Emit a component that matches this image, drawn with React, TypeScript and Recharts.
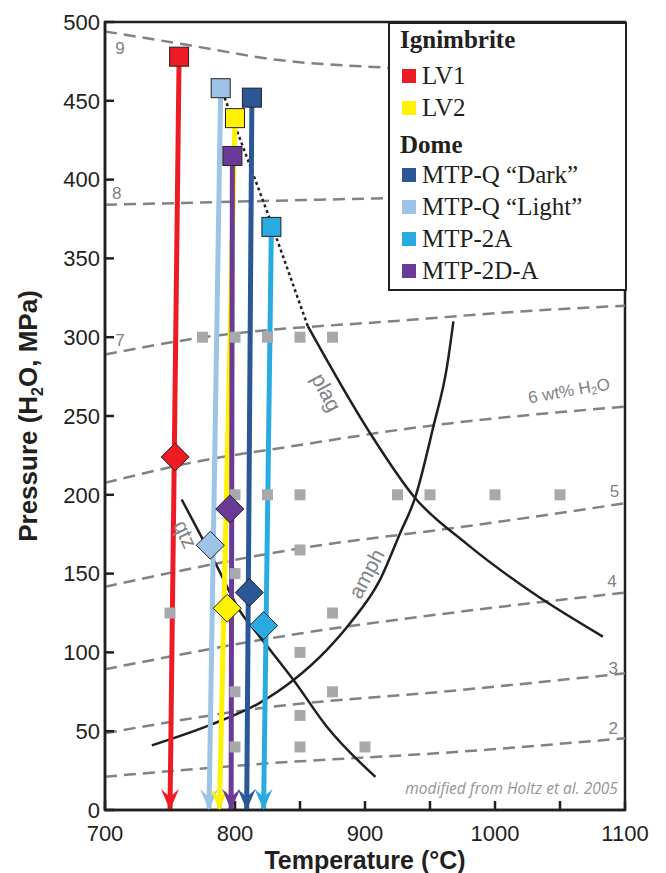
import React from "react";
import {
  ComposedChart,
  Line,
  Scatter,
  XAxis,
  YAxis,
  Legend,
  ReferenceArea,
  Label,
} from "recharts";

// samples: square = start, arrow at 0 MPa, diamond on the path
const sampleNames = ["LV1", "LV2", "MTP-Q “Dark”", "MTP-Q “Light”", "MTP-2A", "MTP-2D-A"];
const sampleGroups = ["Ignimbrite", "Ignimbrite", "Dome", "Dome", "Dome", "Dome"];
const sampleColors = ["#ED1C24", "#FFF200", "#2B5797", "#9DC3E6", "#29ABE2", "#6B3A97"];
const startT = [757, 800, 813, 789, 828, 798];
const startP = [478, 439, 452, 458, 370, 415];
const endT = [750, 788, 809, 780, 822, 797];
const diamondT = [754, 794, 811, 781, 822, 796];
const diamondP = [224, 128, 138, 168, 117, 191];
const drawOrder = [0, 3, 1, 5, 2, 4];

// experimental runs (grey squares)
const expT = [775, 800, 825, 850, 875, 800, 825, 850, 925, 950, 1000, 1050, 850, 800, 750, 875, 850, 800, 875, 850, 800, 850, 900];
const expP = [300, 300, 300, 300, 300, 200, 200, 200, 200, 200, 200, 200, 165, 150, 125, 125, 100, 75, 75, 60, 40, 40, 40];

// H2O isopleths (wt%)
const iso9 = [[700, 494], [763, 485.5], [832, 476], [906, 471.5], [1000, 469], [1100, 467]];
const iso8 = [[700, 384], [800, 386], [906, 388], [1000, 389.5], [1100, 390.5]];
const iso7 = [[700, 289], [768, 299], [935, 311], [1014, 316], [1100, 320]];
const iso6 = [[700, 207.6], [768, 220.6], [850, 231.6], [935, 242.2], [1100, 256]];
const iso5 = [[700, 141.7], [850, 166], [978, 180], [1100, 194.6]];
const iso4 = [[700, 89.3], [850, 112], [973, 125.8], [1100, 137.9]];
const iso3 = [[700, 48.7], [819, 64.5], [973, 76.1], [1100, 86.7]];
const iso2 = [[700, 21.1], [819, 29.2], [973, 37], [1100, 45.5]];

// phase-in curves
const plagDotted = [[792, 452], [825, 379], [856, 307]];
const plagSolid = [[856, 307], [904, 239], [938.5, 198], [978, 169], [1029.5, 137.5], [1083, 110]];
const amph = [[736, 41], [781, 54], [819, 68], [845, 82.5], [870.5, 101.5], [888.5, 118.5], [911.5, 146], [927, 175.6], [938.5, 198], [952.5, 243], [963, 281], [968, 310]];
const qtz = [[759, 197], [785, 156.5], [804, 126], [819, 110], [845, 82.5], [870.5, 53], [908, 21]];

// annotations
const noteText = ["9", "8", "7", "6 wt% H₂O", "5", "4", "3", "2", "plag", "amph", "qtz", "modified from Holtz et al. 2005"];
const noteT = [711.5, 709, 711.5, 1057, 1092, 1090, 1091, 1091, 870.5, 901, 762, 1094.5];
const noteP = [483.5, 391.3, 298, 266, 202, 145, 90, 52, 265, 150, 175, 14];
const noteAngle = [0, 0, 0, -10, 0, 0, 0, 0, 62, -62, 65, 0];

const xTicks = [700, 750, 800, 850, 900, 950, 1000, 1050, 1100];
const yTicks = [0, 50, 100, 150, 200, 250, 300, 350, 400, 450, 500];

const toPts = (arr: number[][]) => arr.map(([T, P]) => ({ T, P }));
const isopleths = [iso9, iso8, iso7, iso6, iso5, iso4, iso3, iso2].map(toPts);
const expData = expT.map((T, i) => ({ T, P: expP[i] }));
const squareData = startT.map((T, i) => ({ T, P: startP[i], color: sampleColors[i] }));
const diamondData = diamondT.map((T, i) => ({ T, P: diamondP[i], color: sampleColors[i] }));
const noteData = noteText.map((text, i) => ({ T: noteT[i], P: noteP[i], text, angle: noteAngle[i] }));

const GREY = "#808285";
const INK = "#231F20";
const SANS = '"Liberation Sans", Arial, Helvetica, sans-serif';

const withSub = (s: string, subSize: number) => {
  const parts = s.split("₂");
  if (parts.length < 2) return s;
  return (
    <>
      {parts[0]}
      <tspan dy={subSize * 0.35} fontSize={subSize}>2</tspan>
      <tspan dy={-subSize * 0.35}>{parts[1]}</tspan>
    </>
  );
};

const GreySquare = (p: any) => (
  <rect x={p.cx - 5.5} y={p.cy - 5.5} width={11} height={11} fill="#A7A9AC" />
);

const StartSquare = (p: any) => (
  <rect x={p.cx - 9.5} y={p.cy - 9.5} width={19} height={19} fill={p.payload.color} stroke={INK} strokeWidth={1} />
);

const Diamond = (p: any) => {
  const { cx, cy } = p;
  const r = 14;
  return (
    <polygon
      points={`${cx},${cy - r} ${cx + r},${cy} ${cx},${cy + r} ${cx - r},${cy}`}
      fill={p.payload.color}
      stroke={INK}
      strokeWidth={1}
    />
  );
};

const Note = (p: any) => {
  const { cx, cy, payload } = p;
  const foot = payload.text.startsWith("modified");
  const curve = ["plag", "amph", "qtz"].includes(payload.text);
  const size = foot ? 15.5 : curve ? 21 : 17;
  return (
    <text
      x={cx}
      y={cy}
      transform={payload.angle ? `rotate(${payload.angle} ${cx} ${cy})` : undefined}
      textAnchor={foot ? "end" : "middle"}
      dominantBaseline="central"
      fontFamily={foot ? '"Open Sans", sans-serif' : SANS}
      fontStyle={foot ? "italic" : "normal"}
      fontSize={size}
      fill={foot ? "#939598" : GREY}
    >
      {withSub(payload.text, size * 0.65)}
    </text>
  );
};

const arrowDot = (color: string, id: number) => (p: any) => {
  const { cx, cy, index } = p;
  if (index !== 1) return <g key={`n-${id}-${index}`} />;
  return (
    <polygon
      key={`a-${id}`}
      points={`${cx},${cy} ${cx - 9},${cy - 21} ${cx},${cy - 13} ${cx + 9},${cy - 21}`}
      fill={color}
    />
  );
};

const XTitle = (props: any) => {
  const vb = props.viewBox || { x: 105, y: 810, width: 520 };
  return (
    <text x={vb.x + vb.width / 2} y={vb.y + 59} textAnchor="middle" fontFamily={SANS} fontWeight="bold" fontSize={25} fill={INK}>
      Temperature (°C)
    </text>
  );
};

const YTitle = (props: any) => {
  const vb = props.viewBox || { y: 22, height: 788 };
  const cx = 37;
  const cy = vb.y + vb.height / 2;
  return (
    <text x={cx} y={cy} transform={`rotate(-90 ${cx} ${cy})`} textAnchor="middle" fontFamily={SANS} fontWeight="bold" fontSize={26} fill={INK}>
      {withSub("Pressure (H₂O, MPa)", 16)}
    </text>
  );
};

const renderLegend = () => {
  const groups = ["Ignimbrite", "Dome"];
  return (
    <div
      style={{
        boxSizing: "border-box",
        width: 239,
        height: 269,
        background: "#fff",
        border: `2px solid ${INK}`,
        fontFamily: '"Liberation Serif", "Times New Roman", serif',
        fontSize: 25,
        color: INK,
      }}
    >
      {groups.map((g, gi) => (
        <div key={g}>
          <div style={{ height: gi === 0 ? 32 : 29, lineHeight: gi === 0 ? "32px" : "29px", marginTop: gi === 0 ? 0 : 6, paddingLeft: 10, fontWeight: "bold" }}>
            {g}
          </div>
          {sampleNames.map((n, i) =>
            sampleGroups[i] !== g ? null : (
              <div key={n} style={{ display: "flex", alignItems: "center", height: 32, marginTop: gi === 0 && i === 0 ? 4 : 0 }}>
                <span style={{ width: 14, height: 14, background: sampleColors[i], marginLeft: 12, marginRight: 6, display: "inline-block" }} />
                <span style={{ lineHeight: "32px" }}>{n}</span>
              </div>
            )
          )}
        </div>
      ))}
    </div>
  );
};

export default function App() {
  return (
    <div style={{ position: "absolute", left: 0, top: 0 }}>
      <ComposedChart width={666} height={873} margin={{ top: 22, right: 41, bottom: 13, left: 45 }}>
        <XAxis
          type="number"
          dataKey="T"
          domain={[700, 1100]}
          ticks={xTicks}
          allowDataOverflow
          height={50}
          tickSize={-9}
          tickMargin={24}
          tickFormatter={(v: number) => (v % 100 === 0 ? String(v) : "")}
          tick={{ fontFamily: SANS, fontSize: 22, fill: INK }}
          axisLine={{ stroke: INK, strokeWidth: 2.5 }}
          tickLine={{ stroke: INK, strokeWidth: 2.5 }}
        >
          <Label content={XTitle} />
        </XAxis>
        <YAxis
          type="number"
          dataKey="P"
          domain={[0, 500]}
          ticks={yTicks}
          allowDataOverflow
          width={60}
          tickSize={-9}
          tickMargin={14}
          tick={{ fontFamily: SANS, fontSize: 22, fill: INK }}
          axisLine={{ stroke: INK, strokeWidth: 2.5 }}
          tickLine={{ stroke: INK, strokeWidth: 2.5 }}
        >
          <Label content={YTitle} />
        </YAxis>

        {isopleths.map((d, i) => (
          <Line key={`iso-${i}`} data={d} dataKey="P" type="monotone" stroke={GREY} strokeWidth={2.5} strokeDasharray="12 7" dot={false} activeDot={false} isAnimationActive={false} />
        ))}

        <Scatter data={expData} dataKey="P" shape={GreySquare} isAnimationActive={false} />

        <Line data={toPts(plagDotted)} dataKey="P" type="linear" stroke={INK} strokeWidth={2.5} strokeDasharray="3 3" dot={false} activeDot={false} isAnimationActive={false} />
        <Line data={toPts(plagSolid)} dataKey="P" type="monotone" stroke={INK} strokeWidth={2.5} dot={false} activeDot={false} isAnimationActive={false} />
        <Line data={toPts(amph)} dataKey="P" type="monotone" stroke={INK} strokeWidth={2.5} dot={false} activeDot={false} isAnimationActive={false} />
        <Line data={toPts(qtz)} dataKey="P" type="monotone" stroke={INK} strokeWidth={2.5} dot={false} activeDot={false} isAnimationActive={false} />

        {drawOrder.map((i) => (
          <Line
            key={`path-${i}`}
            data={[{ T: startT[i], P: startP[i] }, { T: endT[i], P: 0 }]}
            dataKey="P"
            type="linear"
            stroke={sampleColors[i]}
            strokeWidth={5}
            dot={arrowDot(sampleColors[i], i)}
            activeDot={false}
            isAnimationActive={false}
          />
        ))}

        <Scatter data={squareData} dataKey="P" shape={StartSquare} isAnimationActive={false} />
        <Scatter data={diamondData} dataKey="P" shape={Diamond} isAnimationActive={false} />
        <Scatter data={noteData} dataKey="P" shape={Note} isAnimationActive={false} />

        <ReferenceArea x1={700} x2={1100} y1={0} y2={500} fill="none" stroke={INK} strokeWidth={2.5} />

        <Legend
          content={renderLegend}
          layout="horizontal"
          align="center"
          verticalAlign="middle"
          wrapperStyle={{ left: 388, top: 22, width: 239, height: 269 }}
        />
      </ComposedChart>
    </div>
  );
}
